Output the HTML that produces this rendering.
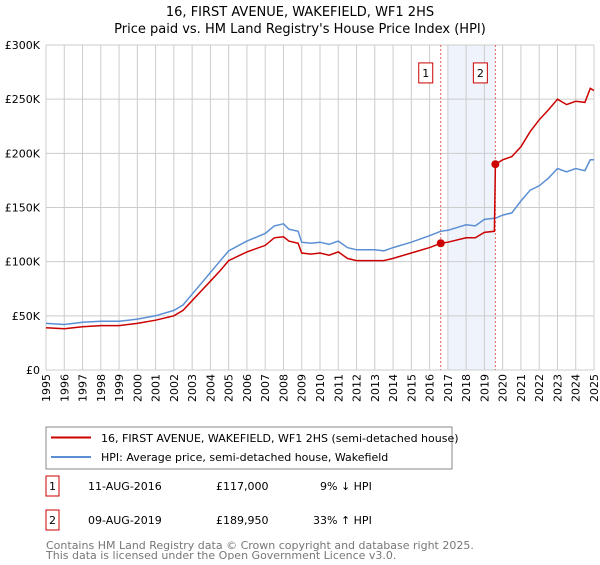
<!DOCTYPE html>
<html><head><meta charset="utf-8"><style>
body{margin:0;background:#fff;font-family:"Liberation Sans","DejaVu Sans",sans-serif;}
</style></head><body>
<svg width="600" height="560" viewBox="0 0 600 560" xmlns="http://www.w3.org/2000/svg" font-family="DejaVu Sans, Liberation Sans, sans-serif">
<text x="300" y="16" text-anchor="middle" font-size="13">16, FIRST AVENUE, WAKEFIELD, WF1 2HS</text>
<text x="300" y="33" text-anchor="middle" font-size="13">Price paid vs. HM Land Registry's House Price Index (HPI)</text>
<g id="plot"></g>
<g>
<rect x="46" y="427" width="406" height="42" fill="#fff" stroke="#888"/>
<line x1="51" y1="437.5" x2="91" y2="437.5" stroke="#cc0000" stroke-width="2"/>
<text x="101" y="442" font-size="11">16, FIRST AVENUE, WAKEFIELD, WF1 2HS (semi-detached house)</text>
<line x1="51" y1="457" x2="91" y2="457" stroke="#5b8fd4" stroke-width="2"/>
<text x="101" y="461" font-size="11">HPI: Average price, semi-detached house, Wakefield</text>
</g>
<g font-size="11">
<rect x="46" y="476" width="13" height="20" fill="#fff" stroke="#cc0000"/>
<text x="52.5" y="490" text-anchor="middle">1</text>
<text x="88" y="490">11-AUG-2016</text><text x="216" y="490">£117,000</text><text x="320" y="490">9% ↓ HPI</text>
</g>
<g font-size="11">
<rect x="46" y="510" width="13" height="20" fill="#fff" stroke="#cc0000"/>
<text x="52.5" y="524" text-anchor="middle">2</text>
<text x="88" y="524">09-AUG-2019</text><text x="216" y="524">£189,950</text><text x="313" y="524">33% ↑ HPI</text>
</g>
<text x="46" y="549" font-size="11" fill="#777">Contains HM Land Registry data © Crown copyright and database right 2025.</text>
<text x="46" y="560" font-size="11" fill="#777" dy="-1">This data is licensed under the Open Government Licence v3.0.</text>
</svg>
<script>
const years=[1995,1996,1997,1998,1999,2000,2001,2002,2002.5,2003,2003.5,2004,2004.5,2005,2006,2007,2007.5,2008,2008.3,2008.8,2009,2009.5,2010,2010.5,2011,2011.5,2012,2013,2013.5,2014,2015,2016,2016.6,2017,2018,2018.5,2019,2019.55,2019.6,2020,2020.5,2021,2021.5,2022,2022.5,2023,2023.5,2024,2024.5,2024.8,2025];
const hpi=[43,42,44,45,45,47,50,55,60,70,80,90,100,110,119,126,133,135,130,128,118,117,118,116,119,113,111,111,110,113,118,124,128,129,134,133,139,140,140,143,145,156,166,170,177,186,183,186,184,194,194];
const price=[39,38,40,41,41,43,46,50,55,64,73,82,91,101,109,115,122,123,119,117,108,107,108,106,109,103,101,101,101,103,108,113,117,118,122,122,127,128,190,194,197,206,220,231,240,250,245,248,247,260,258];
const yTicks=[0,50,100,150,200,250,300];
const yTickLabels=["£0","£50K","£100K","£150K","£200K","£250K","£300K"];
const sales=[{t:2016.61,v:117,label:"1"},{t:2019.6,v:189.95,label:"2"}];
const x0=46,x1=594,yTop=45,yBot=370;
const X=t=>x0+(t-1995)/30*(x1-x0);
const Y=v=>yBot-v/300*(yBot-yTop);
const NS="http://www.w3.org/2000/svg";
const g=document.getElementById('plot');
function mk(tag,attrs,parent){const e=document.createElementNS(NS,tag);for(const k in attrs)e.setAttribute(k,attrs[k]);(parent||g).appendChild(e);return e;}
let e=mk('rect',{x:X(2017),y:yTop,width:X(2019.6)-X(2017),height:yBot-yTop,fill:'#eef3fc'});


for(let yr=1995;yr<=2025;yr++){
 e=mk('line',{x1:X(yr),x2:X(yr),y1:yTop,y2:yBot,stroke:'#ccc','stroke-width':1});
 
 
 e=mk('text',{x:0,y:0,transform:`translate(${X(yr)+4},${yBot+4}) rotate(-90)`,'text-anchor':'end','font-size':11});
 e.textContent=yr;
 
 
}
yTicks.forEach((v,i)=>{
 e=mk('line',{x1:x0,x2:x1,y1:Y(v),y2:Y(v),stroke:'#ccc','stroke-width':1});
 
 
 e=mk('text',{x:x0-6,y:Y(v)+4,'text-anchor':'end','font-size':11});
 e.textContent=yTickLabels[i];
 
 
});
sales.forEach(s=>{
 e=mk('line',{x1:X(s.t),x2:X(s.t),y1:yTop,y2:yBot,stroke:'#e06060','stroke-dasharray':'2,2','stroke-width':1});
 
 
 e=mk('rect',{x:X(s.t)-22,y:Y(277)-7,width:14,height:20,fill:'#fff',stroke:'#cc0000'});
 
 
 e=mk('text',{x:X(s.t)-15,y:Y(277)+7,'text-anchor':'middle','font-size':11});
 e.textContent=s.label;
 
 
});
const pts=a=>a.map((v,i)=>X(years[i]).toFixed(1)+','+Y(v).toFixed(1)).join(' ');
e=mk('polyline',{points:pts(hpi),fill:'none',stroke:'#5b8fd4','stroke-width':1.5});


e=mk('polyline',{points:pts(price),fill:'none',stroke:'#cc0000','stroke-width':1.5});


sales.forEach(s=>{
 e=mk('circle',{cx:X(s.t),cy:Y(s.v),r:4,fill:'#cc0000'});
 
 
});
</script>
</body></html>
